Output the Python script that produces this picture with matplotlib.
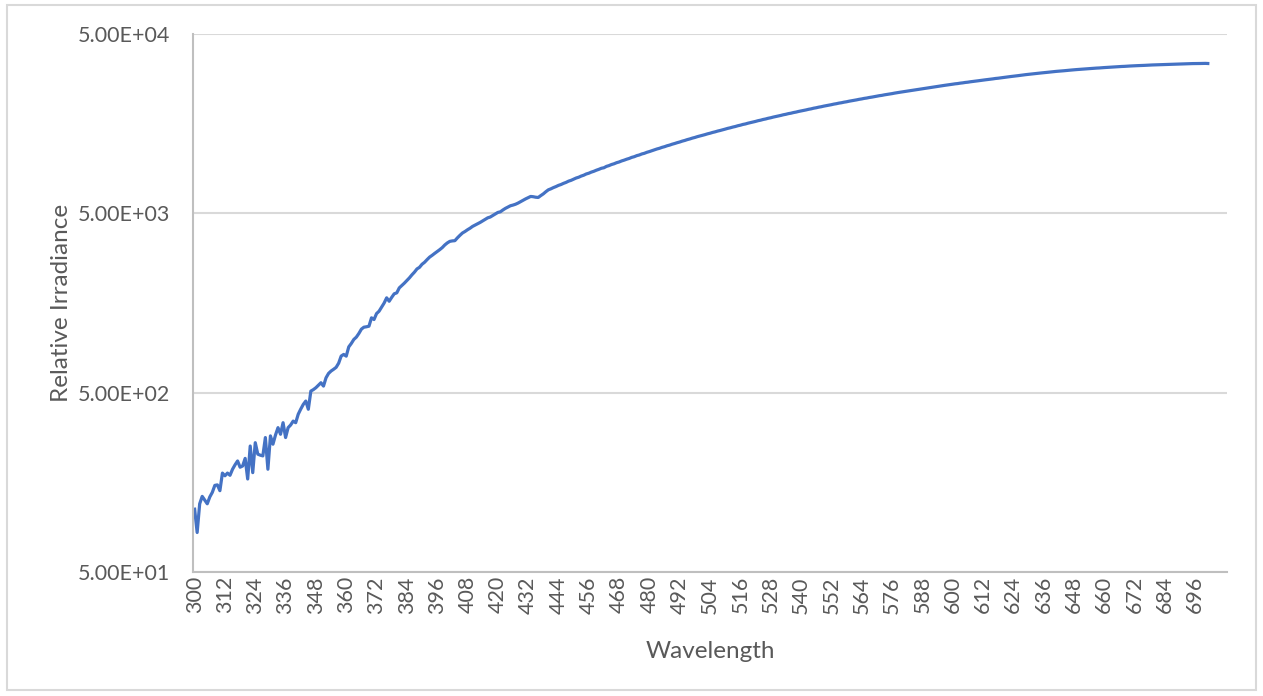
import matplotlib.pyplot as plt
import numpy as np
from matplotlib.patches import Rectangle
from matplotlib.ticker import FixedLocator, FuncFormatter, NullLocator

# wavelength axis, 1 nm steps
wavelength = np.arange(300, 702)

irr_uv = [
    112, 83, 120, 132, 126, 120, 131, 139, 152, 153,
    142, 178, 172, 178, 173, 187, 198, 208, 192, 195,
    215, 165, 252, 179, 263, 227, 224, 222, 281, 187,
    287, 258, 290, 319, 293, 340, 281, 319, 330, 347,
    340, 379, 405, 430, 449, 404, 510, 520, 533, 550,
    568, 544, 605, 640, 660, 675, 692, 730, 800, 817,
    799, 900, 940, 990, 1020, 1069, 1130, 1159, 1165, 1174,
    1307, 1279, 1380, 1423, 1500, 1580, 1690, 1617, 1700, 1780,
    1801, 1920, 1980, 2040, 2110, 2183, 2270, 2350, 2449, 2500,
    2600, 2667, 2760, 2850, 2916, 2990, 3060, 3136, 3220, 3330,
    3420, 3489, 3510, 3520, 3650, 3770, 3885, 3960, 4050, 4130,
    4228, 4300, 4370, 4449, 4540, 4640, 4720, 4769, 4860, 4960,
    5058, 5100, 5220, 5330, 5420, 5512, 5560, 5620, 5704, 5810,
    5920, 6020, 6110, 6211, 6190, 6150, 6132, 6280, 6420, 6600,
]

irr_vis = [
    6764, 6850, 6960, 7050, 7160, 7240, 7350, 7440, 7560, 7640,
    7750, 7870, 7950, 8070, 8160, 8290, 8370, 8490, 8580, 8700,
    8800, 8920, 8980, 9140, 9230, 9360, 9450, 9580, 9670, 9800,
    9900, 10020, 10120, 10260, 10350, 10490, 10580, 10720, 10810, 10950,
    11055, 11180, 11290, 11430, 11530, 11670, 11770, 11910, 12010, 12150,
    12260, 12390, 12500, 12640, 12750, 12890, 13000, 13140, 13250, 13390,
    13500, 13630, 13740, 13880, 13990, 14130, 14240, 14380, 14490, 14630,
    14750, 14890, 15000, 15140, 15250, 15400, 15510, 15660, 15760, 15910,
    16030, 16170, 16280, 16430, 16540, 16690, 16800, 16950, 17060, 17210,
    17330, 17470, 17580, 17730, 17840, 17990, 18090, 18240, 18350, 18500,
    18620, 18760, 18870, 19020, 19130, 19290, 19400, 19550, 19660, 19810,
    19930, 20070, 20180, 20330, 20440, 20590, 20690, 20840, 20950, 21100,
    21220, 21360, 21470, 21620, 21730, 21880, 21980, 22130, 22240, 22390,
    22510, 22650, 22750, 22900, 23010, 23150, 23260, 23410, 23520, 23660,
    23780, 23910, 24020, 24160, 24270, 24410, 24520, 24660, 24770, 24910,
    25030, 25160, 25260, 25410, 25510, 25650, 25750, 25890, 26000, 26140,
    26250, 26380, 26470, 26610, 26710, 26850, 26940, 27080, 27180, 27310,
    27420, 27550, 27650, 27780, 27880, 28020, 28120, 28260, 28350, 28490,
    28600, 28730, 28830, 28970, 29070, 29210, 29310, 29450, 29550, 29690,
    29800, 29910, 30000, 30120, 30210, 30330, 30420, 30540, 30630, 30750,
    30850, 30950, 31020, 31130, 31200, 31310, 31380, 31490, 31560, 31670,
    31750, 31830, 31890, 31990, 32040, 32130, 32190, 32290, 32340, 32440,
    32500, 32570, 32620, 32710, 32750, 32830, 32880, 32970, 33010, 33100,
    33150, 33210, 33240, 33310, 33340, 33410, 33440, 33510, 33540, 33610,
    33650, 33700, 33730, 33790, 33820, 33880, 33900, 33960, 33990, 34050,
    34100, 34130, 34130, 34170, 34170, 34210, 34210, 34250, 34250, 34290,
    34300, 34250,
]

irradiance = irr_uv + irr_vis

x_ticks = list(range(300, 700, 12))
y_ticks = [5e1, 5e2, 5e3, 5e4]

text_color = "#595959"
grid_color = "#D9D9D9"
line_color = "#4472C4"

plt.rcParams["font.family"] = ["Lato", "DejaVu Sans"]

fig = plt.figure(figsize=(12.63, 6.96), dpi=100)
ax = fig.add_axes([0.1531, 0.1782, 0.8182, 0.7729])

ax.plot(wavelength, irradiance, color=line_color, lw=2.3, solid_joinstyle="round")

ax.set_yscale("log")
ax.set_ylim(5e1, 5e4)
ax.set_xlim(299.5, 708.5)

ax.yaxis.set_major_locator(FixedLocator(y_ticks))
ax.yaxis.set_minor_locator(NullLocator())
ax.yaxis.set_major_formatter(FuncFormatter(lambda v, p: f"{v:.2E}"))
ax.xaxis.set_major_locator(FixedLocator(x_ticks))
ax.xaxis.set_minor_locator(NullLocator())

ax.grid(axis="y", color=grid_color, lw=1.5)
ax.set_axisbelow(True)
for side in ["top", "right"]:
    ax.spines[side].set_visible(False)
for side in ["left", "bottom"]:
    ax.spines[side].set_color("#BFBFBF")
    ax.spines[side].set_linewidth(1.5)

ax.tick_params(axis="y", length=0, pad=17, labelsize=15.5, labelcolor=text_color)
ax.tick_params(axis="x", length=0, pad=3, labelsize=15.5, labelcolor=text_color,
               labelrotation=90)

ax.set_xlabel("Wavelength", fontsize=17.5, color=text_color, labelpad=20)
ax.set_ylabel("Relative Irradiance", fontsize=17.5, color=text_color, labelpad=4)

# light frame round the whole chart
fig.patches.append(Rectangle((7 / 1263, 6 / 696), 1249 / 1263, 685 / 696,
                             transform=fig.transFigure, fill=False,
                             edgecolor=grid_color, lw=1.5))

fig.savefig("out.png", dpi=100)
